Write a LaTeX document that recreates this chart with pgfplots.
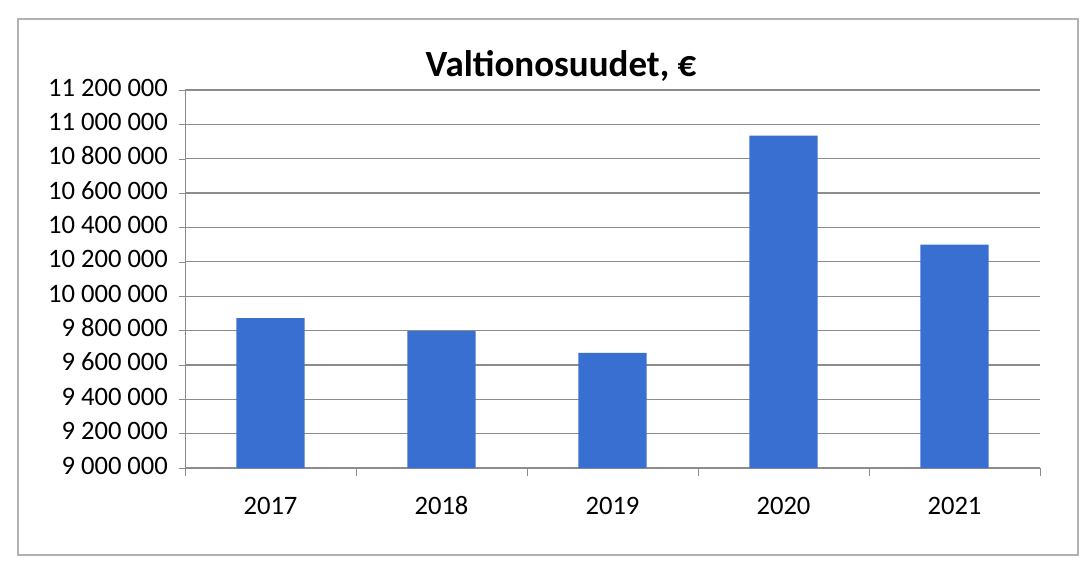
\documentclass[border=0pt]{standalone}
\usepackage{fontspec}
\setmainfont{Carlito}
\usepackage{pgfplots}
\pgfplotsset{compat=1.18}
\definecolor{barblue}{RGB}{58,111,210}
\definecolor{gridgray}{RGB}{140,140,140}
\begin{document}
\begin{tikzpicture}[x=0.5pt,y=0.5pt]
% page = 1088 x 569 px, 1 px = 0.5pt
\useasboundingbox (0,0) rectangle (1088,569);
\draw[gray!60, line width=0.8pt] (18,14) rectangle (1078,550);
\node[font=\bfseries\fontsize{18.5}{21}\selectfont] at (561,503) {Valtionosuudet, €};
\begin{axis}[
    at={(92.5pt,50.5pt)}, anchor=south west,
    scale only axis,
    width=427.5pt, height=189pt,
    xmin=-0.5, xmax=4.5,
    ymin=9000000, ymax=11200000,
    ytick={9000000,9200000,...,11200000},
    xtick={0,1,2,3,4},
    xticklabels={2017,2018,2019,2020,2021},
    xtick style={draw=none},
    extra x ticks={-0.5,0.5,1.5,2.5,3.5,4.5},
    extra x tick labels={},
    extra x tick style={xtick style={draw=gridgray}, grid=none, tick align=outside, major tick length=4pt},
    axis x line=bottom, axis y line=left,
    axis line style={draw=gridgray, -},
    ytick style={draw=gridgray},
    tick align=outside, major tick length=3pt,
    ymajorgrids, grid style={gridgray, line width=0.6pt},
    scaled y ticks=false,
    /pgf/number format/fixed,
    /pgf/number format/precision=0,
    /pgf/number format/1000 sep={\ },
    /pgf/number format/assume math mode=true,
    typeset ticklabels with strut,
    yticklabel style={font=\fontsize{13.3}{15}\selectfont, xshift=-2pt},
    xticklabel style={font=\fontsize{13.3}{15}\selectfont, yshift=-6pt},
    ybar, bar width=0.4,
    clip=false,
]
\addplot[fill=barblue, draw=none] coordinates {
    (0,9872000) (1,9796000) (2,9670000) (3,10935000) (4,10300000)
};
\end{axis}
\end{tikzpicture}
\end{document}
